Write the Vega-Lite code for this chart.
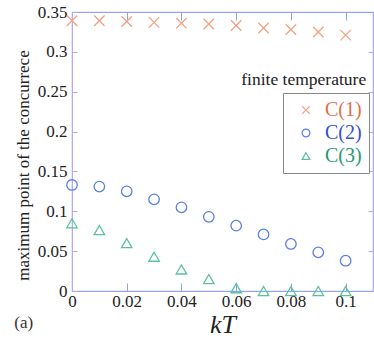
{
  "$schema": "https://vega.github.io/schema/vega-lite/v6.json",
  "width": 301,
  "height": 279,
  "autosize": {"type": "none"},
  "padding": {"left": 72, "top": 12, "right": 1, "bottom": 57},
  "config": {
    "font": "Liberation Serif",
    "view": {"stroke": "#a8b4ee", "strokeWidth": 1.2}
  },
  "title": {"text": "(a)", "orient": "bottom", "anchor": "start", "dx": 0, "offset": -22, "fontSize": 17, "fontWeight": "normal", "color": "#333", "font": "Liberation Serif"},
  "data": {
    "values": [
      {"kT": 0.00, "series": "C(1)", "value": 0.339},
      {"kT": 0.01, "series": "C(1)", "value": 0.339},
      {"kT": 0.02, "series": "C(1)", "value": 0.338},
      {"kT": 0.03, "series": "C(1)", "value": 0.337},
      {"kT": 0.04, "series": "C(1)", "value": 0.336},
      {"kT": 0.05, "series": "C(1)", "value": 0.335},
      {"kT": 0.06, "series": "C(1)", "value": 0.333},
      {"kT": 0.07, "series": "C(1)", "value": 0.330},
      {"kT": 0.08, "series": "C(1)", "value": 0.328},
      {"kT": 0.09, "series": "C(1)", "value": 0.325},
      {"kT": 0.10, "series": "C(1)", "value": 0.321},
      {"kT": 0.00, "series": "C(2)", "value": 0.133},
      {"kT": 0.01, "series": "C(2)", "value": 0.131},
      {"kT": 0.02, "series": "C(2)", "value": 0.125},
      {"kT": 0.03, "series": "C(2)", "value": 0.115},
      {"kT": 0.04, "series": "C(2)", "value": 0.105},
      {"kT": 0.05, "series": "C(2)", "value": 0.093},
      {"kT": 0.06, "series": "C(2)", "value": 0.082},
      {"kT": 0.07, "series": "C(2)", "value": 0.071},
      {"kT": 0.08, "series": "C(2)", "value": 0.059},
      {"kT": 0.09, "series": "C(2)", "value": 0.0485},
      {"kT": 0.10, "series": "C(2)", "value": 0.038},
      {"kT": 0.00, "series": "C(3)", "value": 0.085},
      {"kT": 0.01, "series": "C(3)", "value": 0.0765},
      {"kT": 0.02, "series": "C(3)", "value": 0.060},
      {"kT": 0.03, "series": "C(3)", "value": 0.043},
      {"kT": 0.04, "series": "C(3)", "value": 0.027},
      {"kT": 0.05, "series": "C(3)", "value": 0.015},
      {"kT": 0.06, "series": "C(3)", "value": 0.0035},
      {"kT": 0.07, "series": "C(3)", "value": 0.0},
      {"kT": 0.08, "series": "C(3)", "value": 0.0},
      {"kT": 0.09, "series": "C(3)", "value": 0.0},
      {"kT": 0.10, "series": "C(3)", "value": 0.0}
    ]
  },
  "resolve": {"axis": {"x": "independent", "y": "independent"}},
  "layer": [
    {
      "mark": {"type": "point", "filled": false, "size": 110, "strokeWidth": 1.3, "opacity": 1, "clip": false},
      "encoding": {
        "x": {
          "field": "kT", "type": "quantitative",
          "scale": {"domain": [0, 0.11], "nice": false},
          "axis": {
            "title": "kT", "titleFont": "Liberation Serif", "titleFontStyle": "italic", "titleFontSize": 26, "titleFontWeight": "normal", "titleColor": "#222", "titlePadding": 2,
            "values": [0, 0.02, 0.04, 0.06, 0.08, 0.1], "format": "~g",
            "labelFont": "Liberation Serif", "labelFontSize": 17, "labelColor": "#222", "labelPadding": 10, "labelFlush": false,
            "tickSize": -8, "tickColor": "#8fa6ee", "domainColor": "#8fa6ee", "grid": false
          }
        },
        "y": {
          "field": "value", "type": "quantitative",
          "scale": {"domain": [0, 0.35], "nice": false},
          "axis": {
            "title": "maximum point of the concurrece", "titleFont": "Liberation Serif", "titleFontSize": 17, "titleFontWeight": "normal", "titleColor": "#222", "titlePadding": 5, "titleY": 153,
            "values": [0, 0.05, 0.1, 0.15, 0.2, 0.25, 0.3, 0.35], "format": "~g",
            "labelFont": "Liberation Serif", "labelFontSize": 17, "labelColor": "#222", "labelPadding": 10, "labelFlush": false,
            "tickSize": -5, "tickColor": "#b7a8ee", "domainColor": "#b7a8ee", "grid": false
          }
        },
        "color": {
          "field": "series", "type": "nominal",
          "scale": {"domain": ["C(1)", "C(2)", "C(3)"], "range": ["#f3a184", "#5b80e2", "#5cc0a0"]},
          "legend": {
            "title": null, "orient": "none", "legendX": 211, "legendY": 81,
            "strokeColor": "#888", "padding": 7, "fillColor": "white",
            "labelFont": "Liberation Serif", "labelFontSize": 20, "symbolSize": 60, "symbolStrokeWidth": 1.2, "rowPadding": 3, "labelOffset": 9, "symbolOffset": 6,
            "labelColor": {"expr": "datum.value == 'C(1)' ? '#e0704a' : datum.value == 'C(2)' ? '#3552c8' : '#1f9a72'"}
          }
        },
        "shape": {
          "field": "series", "type": "nominal",
          "scale": {"domain": ["C(1)", "C(2)", "C(3)"], "range": ["M-1,-1L1,1M-1,1L1,-1", "circle", "triangle-up"]}
        }
      }
    },
    {
      "data": {"values": [{"label": "finite temperature"}]},
      "mark": {"type": "text", "align": "right", "baseline": "middle", "fontSize": 17.5, "color": "#222", "clip": false, "font": "Liberation Serif"},
      "encoding": {
        "x": {"datum": 0.1075, "type": "quantitative", "axis": {"orient": "top", "title": null, "labels": false, "values": [0.02, 0.04, 0.06, 0.08, 0.1], "tickSize": -8, "tickColor": "#8fa6ee", "domainColor": "#8fa6ee", "grid": false}},
        "y": {"datum": 0.265, "type": "quantitative", "axis": {"orient": "right", "title": null, "labels": false, "values": [0.05, 0.1, 0.15, 0.2, 0.25, 0.3], "tickSize": -5, "tickColor": "#b7a8ee", "domainColor": "#b7a8ee", "grid": false}},
        "text": {"field": "label"}
      }
    }
  ]
}
